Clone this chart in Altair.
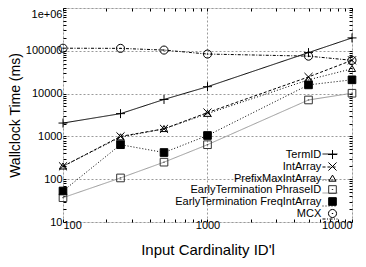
import altair as alt
import pandas as pd

# ---- data ----
X_VALUES = [100, 250, 500, 1000, 5000, 10000]
SERIES = ["TermID", "IntArray", "PrefixMaxIntArray",
          "EarlyTermination PhraseID", "EarlyTermination FreqIntArray", "MCX"]
TERMID = [2050, 3400, 7300, 14500, 90800, 200000]
INTARRAY = [200, 1000, 1500, 3600, 24500, 60000]
PREFIXMAX = [200, 960, 1500, 3400, 21000, 38000]
PHRASEID = [37, 107, 250, 640, 7100, 10200]
FREQINT = [53, 640, 420, 1050, 16000, 21000]
MCX = [115000, 114000, 104000, 84000, 75000, 60000]

X_MAJOR = [100, 1000, 10000]
X_LABELS = ["100", "1000", "10000"]
Y_MAJOR = [10, 100, 1000, 10000, 100000, 1000000]
Y_LABELS = ["10", "100", "1000", "10000", "100000", "1e+06"]

# ---- styles ----
LINE_COLORS = ["black", "black", "black", "#9a9a9a", "black", "black"]
LINE_DASH = [[1, 0], [3, 2], [1, 2], [1, 0], [1, 2], [3, 1.5, 1, 1.5]]
SHAPES = [
    "M-1,0H1M0,-1V1",
    "M-0.9,-0.9L0.9,0.9M-0.9,0.9L0.9,-0.9",
    "M0,-0.75L0.8,0.6L-0.8,0.6Z",
    "M-0.85,-0.85H0.85V0.85H-0.85Z M-0.15,0H0.15",
    "M-0.85,-0.85H0.85V0.85H-0.85Z",
    "M-0.9,0A0.9,0.9 0 1,0 0.9,0A0.9,0.9 0 1,0 -0.9,0Z M-0.15,0H0.15",
]
POINT_STROKE = ["black", "black", "black", "#333333", "black", "black"]
POINT_FILL = ["transparent", "transparent", "transparent", "transparent", "black", "transparent"]

values = [TERMID, INTARRAY, PREFIXMAX, PHRASEID, FREQINT, MCX]
rows = []
for name, ys in zip(SERIES, values):
    for x, y in zip(X_VALUES, ys):
        rows.append({"x": x, "y": y, "sl": name, "sp": name})
df = pd.DataFrame(rows)

def minors(lo, hi):
    out = []
    d = lo
    while d < hi:
        out += [d * k for k in range(1, 10)]
        d *= 10
    out.append(hi)
    return out

X_TICKS = minors(100, 10000)
Y_TICKS = minors(10, 1000000)

x_major_test = f"indexof({X_MAJOR}, datum.value) >= 0"
y_major_test = f"indexof({Y_MAJOR}, datum.value) >= 0"
x_label_expr = f"{x_major_test} ? {X_LABELS}[indexof({X_MAJOR}, datum.value)] : ''"
y_label_expr = f"{y_major_test} ? {Y_LABELS}[indexof({Y_MAJOR}, datum.value)] : ''"

FONT = "Liberation Sans"
common_axis = dict(domain=False, tickColor="black", tickSize={"expr": "-3"},
                   tickWidth=1, gridColor="#9a9a9a", gridDash=[2, 2], gridWidth=1,
                   labelFont=FONT, labelFontSize=11, labelColor="black",
                   titleFont=FONT, titleFontWeight="normal", titleColor="black")

xscale = alt.Scale(type="log", domain=[100, 10000], nice=False)
yscale = alt.Scale(type="log", domain=[10, 1000000], nice=False)

line_legend = alt.Legend(orient="none", legendX=259, legendY=138, title=None,
                         symbolType="stroke", symbolSize=225, symbolStrokeWidth=1,
                         labelOpacity=0, labelFont=FONT, labelFontSize=11,
                         labelAlign="right", labelOffset={"expr": "-20"},
                         rowPadding={"expr": "-2.4"}, padding=0)
point_legend = alt.Legend(orient="none", legendX=264, legendY=141, title=None,
                          symbolSize=81, symbolStrokeWidth=1,
                          labelFont=FONT, labelFontSize=11, labelColor="black",
                          labelAlign="right", labelOffset={"expr": "-16.7"},
                          rowPadding={"expr": "-1.6"}, padding=0)

lines = alt.Chart(df).mark_line(strokeWidth=1, clip=True).encode(
    x=alt.X("x:Q", scale=xscale,
            axis=alt.Axis(values=X_TICKS, labelExpr=x_label_expr, orient="bottom",
                          gridOpacity={"condition": {"test": x_major_test, "value": 1}, "value": 0},
                          title="Input Cardinality ID'l", titleFontSize=15, titlePadding=12,
                          labelPadding=0, **common_axis)),
    y=alt.Y("y:Q", scale=yscale,
            axis=alt.Axis(values=Y_TICKS, labelExpr=y_label_expr, orient="left",
                          gridOpacity={"condition": {"test": y_major_test, "value": 1}, "value": 0},
                          labelBaseline={"condition": {"test": "datum.value == 1000000", "value": "top"},
                                         "value": "middle"},
                          title="Wallclock Time (ms)", titleFontSize=14, titlePadding=3,
                          labelPadding=4, **common_axis)),
    stroke=alt.Stroke("sl:N", scale=alt.Scale(domain=SERIES, range=LINE_COLORS), legend=line_legend),
    strokeDash=alt.StrokeDash("sl:N", scale=alt.Scale(domain=SERIES, range=LINE_DASH), legend=line_legend),
)

points = alt.Chart(df).mark_point(strokeWidth=1, opacity=1, size=81).encode(
    x=alt.X("x:Q", scale=xscale,
            axis=alt.Axis(values=X_TICKS, labels=False, orient="top", grid=False, title=None,
                          **common_axis)),
    y=alt.Y("y:Q", scale=yscale,
            axis=alt.Axis(values=Y_TICKS, labels=False, orient="right", grid=False, title=None,
                          **common_axis)),
    shape=alt.Shape("sp:N", scale=alt.Scale(domain=SERIES, range=SHAPES), legend=point_legend),
    stroke=alt.Stroke("sp:N", scale=alt.Scale(domain=SERIES, range=POINT_STROKE), legend=point_legend),
    fill=alt.Fill("sp:N", scale=alt.Scale(domain=SERIES, range=POINT_FILL), legend=point_legend),
)

chart = alt.layer(lines, points).resolve_scale(
    x="independent", y="independent", stroke="independent",
    strokeDash="independent", shape="independent", fill="independent"
).resolve_legend(
    stroke="independent", strokeDash="independent", shape="independent", fill="independent"
).properties(
    width=289, height=214,
    padding={"left": 55, "top": 0, "right": 6, "bottom": 37},
    autosize=alt.AutoSizeParams(type="none"),
).configure_view(stroke="black", strokeWidth=1).configure(font=FONT, background="white")

chart.save("out.html", embed_options={"renderer": "svg", "actions": False})
